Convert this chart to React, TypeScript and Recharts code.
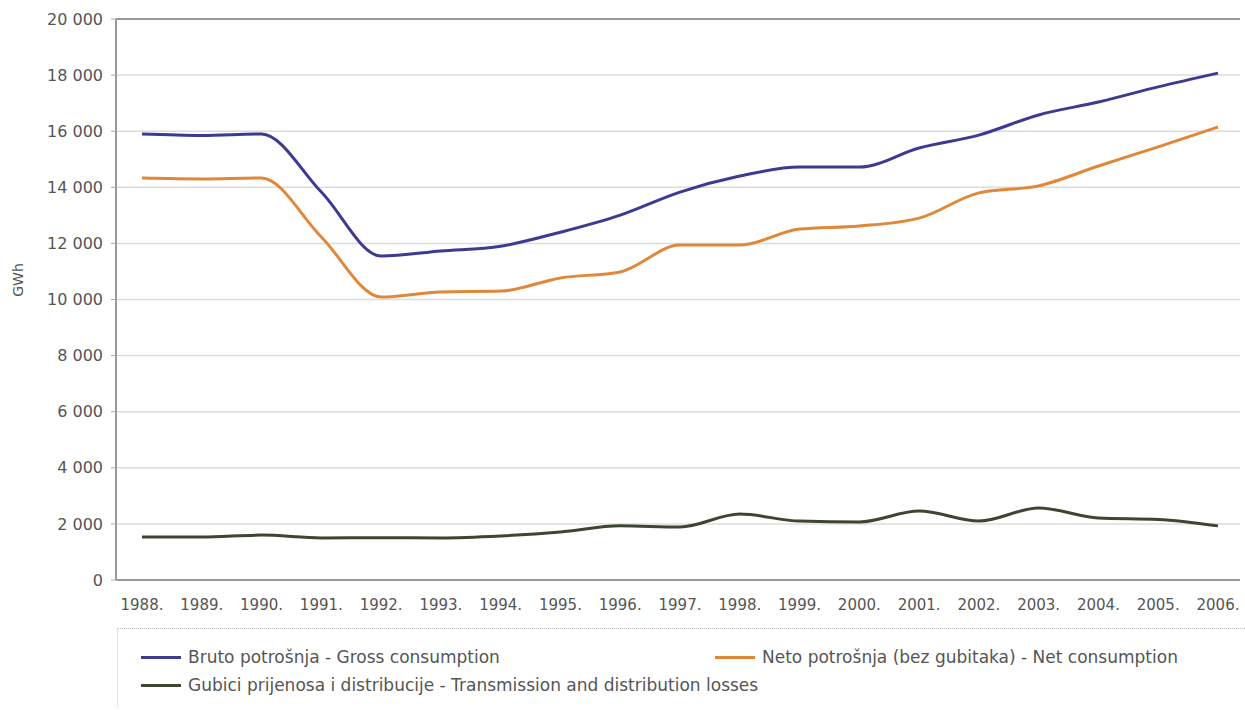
import { LineChart, Line, XAxis, YAxis, CartesianGrid, ReferenceLine } from 'recharts'

const years = [
  '1988', '1989', '1990', '1991', '1992', '1993', '1994', '1995', '1996', '1997',
  '1998', '1999', '2000', '2001', '2002', '2003', '2004', '2005', '2006',
]

const gross = [
  15900, 15850, 15900, 13830, 11550, 11730, 11900, 12400, 13010, 13830,
  14400, 14720, 14720, 15400, 15860, 16580, 17040, 17580, 18070,
]

const net = [
  14330, 14300, 14330, 12230, 10090, 10270, 10300, 10770, 10980, 11940,
  11940, 12510, 12620, 12900, 13800, 14050, 14760, 15440, 16150,
]

const losses = [
  1530, 1530, 1600, 1500, 1510, 1500, 1570, 1710, 1930, 1890,
  2350, 2100, 2070, 2460, 2100, 2570, 2210, 2160, 1930,
]

const yTicks = [0, 2000, 4000, 6000, 8000, 10000, 12000, 14000, 16000, 18000, 20000]

const series = [
  { key: 'gross', name: 'Bruto potrošnja - Gross consumption', color: '#3d3a92' },
  { key: 'net', name: 'Neto potrošnja (bez gubitaka) - Net consumption', color: '#e0883a' },
  { key: 'losses', name: 'Gubici prijenosa i distribucije - Transmission and distribution losses', color: '#3c4630' },
]

const data = years.map((year, i) => ({
  year,
  gross: gross[i],
  net: net[i],
  losses: losses[i],
}))

const font = '"DejaVu Sans", Verdana, sans-serif'
const textColor = '#555'

const fmt = (v: number) => v.toLocaleString('en-US').replace(/,/g, ' ')

function LegendBox() {
  const item = (s: (typeof series)[number], left: number, top: number) => (
    <div
      key={s.key}
      style={{
        position: 'absolute',
        left,
        top,
        height: 20,
        lineHeight: '20px',
        display: 'flex',
        alignItems: 'center',
        whiteSpace: 'nowrap',
      }}
    >
      <span style={{ display: 'inline-block', width: 40, height: 3, background: s.color, marginRight: 7 }} />
      <span>{s.name}</span>
    </div>
  )
  return (
    <div
      style={{
        position: 'absolute',
        left: 117,
        top: 628,
        width: 1127,
        height: 78,
        borderTop: '1px dotted #bbb',
        borderLeft: '1px solid #e2e2e2',
        fontFamily: font,
        fontSize: 17,
        color: textColor,
      }}
    >
      {item(series[0], 23, 18)}
      {item(series[1], 597, 18)}
      {item(series[2], 23, 46)}
    </div>
  )
}

export default function App() {
  return (
    <div style={{ position: 'absolute', left: 0, top: 0, width: 1245, height: 710, background: '#fff' }}>
      <LineChart
        width={1245}
        height={710}
        data={data}
        margin={{ top: 19, right: 5, left: 0, bottom: 100 }}
      >
        <CartesianGrid vertical={false} stroke="#dcdcdc" strokeWidth={1.5} />
        <XAxis
          dataKey="year"
          height={30}
          padding={{ left: 26, right: 22 }}
          tickFormatter={(v) => `${v}.`}
          tickLine={false}
          axisLine={{ stroke: '#999', strokeWidth: 2 }}
          tick={{ fill: textColor, fontSize: 15, fontFamily: font }}
          tickMargin={13}
          interval={0}
        />
        <YAxis
          width={116}
          domain={[0, 20000]}
          ticks={yTicks}
          tickFormatter={fmt}
          tickSize={5}
          tickLine={{ stroke: '#aaa' }}
          axisLine={{ stroke: '#999', strokeWidth: 2 }}
          tick={{ fill: textColor, fontSize: 16, fontFamily: font }}
          tickMargin={8}
          label={{
            value: 'GWh',
            content: () => (
              <text
                x={18}
                y={280}
                transform="rotate(-90 18 280)"
                textAnchor="middle"
                dominantBaseline="central"
                fill={textColor}
                fontSize={14}
                fontFamily={font}
              >
                GWh
              </text>
            ),
          }}
        />
        <ReferenceLine y={20000} stroke="#999" strokeWidth={2} />
        {series.map((s) => (
          <Line
            key={s.key}
            type="monotone"
            dataKey={s.key}
            name={s.name}
            stroke={s.color}
            strokeWidth={3}
            dot={false}
            activeDot={false}
            isAnimationActive={false}
          />
        ))}
      </LineChart>
      <LegendBox />
    </div>
  )
}
